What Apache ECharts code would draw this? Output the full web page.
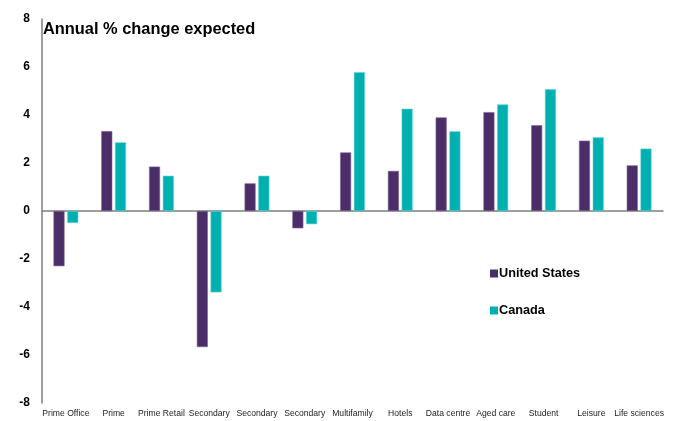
<!DOCTYPE html>
<html>
<head>
<meta charset="utf-8">
<script src="https://cdn.jsdelivr.net/npm/echarts@6/dist/echarts.min.js"></script>
<style>html,body{margin:0;padding:0;background:#fff;}#c{width:674px;height:421px;}</style>
</head>
<body>
<div id="c"></div>
<script>
var categories = ["Prime Office","Prime","Prime Retail","Secondary","Secondary","Secondary","Multifamily","Hotels","Data centre","Aged care","Student","Leisure","Life sciences"];
var usValues = [-2.3, 3.33, 1.85, -5.67, 1.15, -0.72, 2.44, 1.67, 3.9, 4.12, 3.57, 2.93, 1.9];
var canadaValues = [-0.5, 2.86, 1.47, -3.39, 1.47, -0.55, 5.78, 4.26, 3.32, 4.44, 5.07, 3.07, 2.6];
var yTicks = [-8, -6, -4, -2, 0, 2, 4, 6, 8];

var chart = echarts.init(document.getElementById('c'));
chart.setOption({
  animation: false,
  backgroundColor: '#ffffff',
  title: {
    text: 'Annual % change expected',
    left: 38, top: 16,
    textStyle: {fontFamily: 'Liberation Sans, Arial', fontSize: 16.4, fontWeight: 'bold', color: '#000'}
  },
  legend: {
    left: 485, top: 262,
    orient: 'vertical',
    itemGap: 24,
    itemWidth: 8, itemHeight: 8,
    icon: 'rect',
    itemStyle: {borderWidth: 0},
    textStyle: {fontFamily: 'Liberation Sans, Arial', fontSize: 12.7, fontWeight: 'bold', color: '#000', padding: [0,0,0,-4]},
    data: ['United States', 'Canada']
  },
  grid: {left: 42, right: 11, top: 19, bottom: 18, containLabel: false},
  xAxis: {
    type: 'category',
    data: categories,
    axisLine: {onZero: true, lineStyle: {color: '#7f7f7f', width: 1.5}},
    axisTick: {show: false},
    axisLabel: {
      interval: 0, margin: 0, padding: [6,0,0,0],
      fontFamily: 'Liberation Sans, Arial', fontSize: 8.6, color: '#222'
    },
    position: 'bottom'
  },
  yAxis: {
    type: 'value',
    min: -8, max: 8, interval: 2,
    axisLine: {show: true, lineStyle: {color: '#7f7f7f', width: 1.5}},
    axisTick: {show: false},
    splitLine: {show: false},
    axisLabel: {
      margin: 12,
      fontFamily: 'Liberation Sans, Arial', fontSize: 12, fontWeight: 'bold', color: '#000',
      formatter: function (v) { return yTicks.indexOf(v) >= 0 ? String(v) : ''; }
    }
  },
  series: [
    {
      name: 'United States', type: 'bar', data: usValues,
      barWidth: 11, barGap: '25%',
      itemStyle: {color: '#4b2e68', borderColor: '#7a6392', borderWidth: 0.6}
    },
    {
      name: 'Canada', type: 'bar', data: canadaValues,
      barWidth: 11, barGap: '25%',
      itemStyle: {color: '#00b0b0', borderColor: '#5fd0d0', borderWidth: 0.6}
    }
  ]
});
</script>
</body>
</html>
